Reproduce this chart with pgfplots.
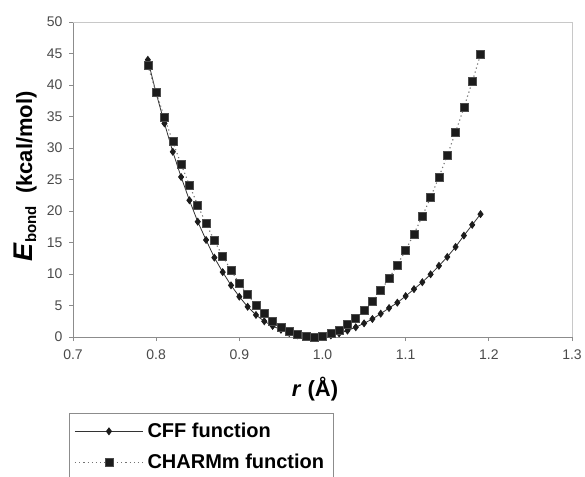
\documentclass[border=0pt]{standalone}
\usepackage{fontspec}
\setmainfont{Liberation Sans}
\usepackage{pgfplots}
\pgfplotsset{compat=1.18}
\usepackage{pgfplotstable}

\pgfplotstableread{
r E
0.79 44.0
0.80 38.7
0.81 33.9
0.82 29.4
0.83 25.4
0.84 21.7
0.85 18.3
0.86 15.4
0.87 12.6
0.88 10.3
0.89 8.2
0.90 6.4
0.91 4.8
0.92 3.5
0.93 2.5
0.94 1.75
0.95 1.14
0.96 0.63
0.97 0.27
0.98 0.07
0.99 0.0
1.00 0.06
1.01 0.25
1.02 0.57
1.03 1.02
1.04 1.55
1.05 2.17
1.06 2.86
1.07 3.70
1.08 4.60
1.09 5.45
1.10 6.50
1.11 7.60
1.12 8.70
1.13 9.95
1.14 11.3
1.15 12.7
1.16 14.3
1.17 16.1
1.18 17.8
1.19 19.5
}\cff

\pgfplotstableread{
r E
0.79 43.1
0.80 38.8
0.81 34.8
0.82 31.0
0.83 27.4
0.84 24.1
0.85 20.9
0.86 18.0
0.87 15.3
0.88 12.8
0.89 10.6
0.90 8.5
0.91 6.7
0.92 5.1
0.93 3.7
0.94 2.5
0.95 1.6
0.96 0.86
0.97 0.36
0.98 0.07
0.99 0.0
1.00 0.16
1.01 0.53
1.02 1.13
1.03 1.94
1.04 2.97
1.05 4.22
1.06 5.70
1.07 7.39
1.08 9.30
1.09 11.43
1.10 13.79
1.11 16.36
1.12 19.15
1.13 22.16
1.14 25.39
1.15 28.84
1.16 32.51
1.17 36.40
1.18 40.51
1.19 44.84
}\charmm

\definecolor{tickgray}{HTML}{4A4A4A}
\definecolor{axgray}{HTML}{8C8C8C}
\definecolor{framegray}{HTML}{C8C8C8}
\definecolor{mk}{HTML}{1C1C1C}

\begin{document}
\begin{tikzpicture}
\path[use as bounding box] (-73pt,-139pt) rectangle (512pt,337pt);
\begin{axis}[
  at={(0pt,0pt)}, anchor=south west,
  scale only axis, width=499pt, height=315pt,
  xmin=0.7, xmax=1.3, ymin=0, ymax=50,
  axis x line*=bottom, axis y line*=left,
  axis line style={draw=axgray, line width=0.8pt, -},
  xtick={0.7,0.8,0.9,1.0,1.1,1.2,1.3},
  xticklabels={0.7,0.8,0.9,1.0,1.1,1.2,1.3},
  ytick={0,5,10,15,20,25,30,35,40,45,50},
  tick align=outside, major tick length=4pt,
  tick style={draw=axgray, line width=0.8pt},
  /pgf/number format/assume math mode=true,
  tick label style={font=\fontsize{14}{16}\selectfont, text=tickgray},
  xticklabel style={yshift=-5pt},
  yticklabel style={xshift=-3pt},
  xlabel={\textbf{\textit{r} (Å)}},
  xlabel style={at={(axis description cs:0.485,-0.165)}, anchor=center, font=\fontsize{22}{26}\selectfont},
  ylabel={\textbf{{\fontsize{27}{28}\selectfont\textit{E}}\raisebox{-4pt}{\fontsize{15}{16}\selectfont bond}\ \ (kcal/mol)}},
  ylabel style={at={(axis description cs:-0.096,0.51)}, anchor=center, font=\fontsize{22}{26}\selectfont},
  legend style={at={(axis description cs:-0.008,-0.241)}, anchor=north west,
    draw=axgray, line width=0.8pt, font=\fontsize{20}{22}\selectfont\bfseries,
    inner xsep=5pt, inner ysep=8pt, row sep=11pt,
    nodes={inner xsep=4pt}},
  legend cell align=left,
  legend image code/.code={\draw[mark repeat=2,mark phase=2,#1] plot coordinates {(0pt,0pt) (34pt,0pt) (68pt,0pt)};},
  clip=false,
]
\draw[framegray, line width=0.8pt] (rel axis cs:0,1) -- (rel axis cs:1,1) -- (rel axis cs:1,0);
\addplot[color=black!80, line width=0.8pt, mark=diamond*, mark size=3.4pt,
  mark options={fill=mk, draw=mk, solid}] table[x=r, y=E] {\cff};
\addlegendentry{CFF function}
\addplot[color=black!55, line width=1.1pt, dash pattern=on 1.2pt off 3pt, mark=square*, mark size=4pt,
  mark options={fill=mk, draw=black!70, line width=0.6pt, solid}] table[x=r, y=E] {\charmm};
\addlegendentry{CHARMm function}
\end{axis}
\end{tikzpicture}
\end{document}
